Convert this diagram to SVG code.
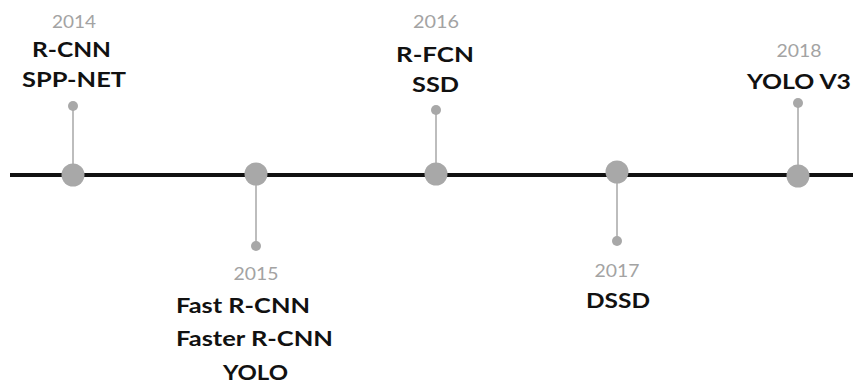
<svg xmlns="http://www.w3.org/2000/svg" width="853" height="386" viewBox="0 0 853 386">
<style>
.yr{font-family:Lato,"Open Sans",sans-serif;font-weight:400;font-size:18px;fill:#a3a3a3;text-anchor:middle}
.lb{font-family:Lato,"Open Sans",sans-serif;font-weight:700;font-size:21.5px;fill:#111;text-anchor:middle}
.stem{stroke:#bdbdbd;stroke-width:2}
.big{fill:#a8a8a8}
.dot{fill:#a8a8a8}
</style>
<rect width="853" height="386" fill="#fff"/>
<g id="connectors">
<line x1="10" y1="175" x2="853" y2="175" stroke="#111" stroke-width="4"/>
<line class="stem" x1="73" y1="106" x2="73" y2="175"/>
<line class="stem" x1="256" y1="174" x2="256" y2="246"/>
<line class="stem" x1="436" y1="110" x2="436" y2="174"/>
<line class="stem" x1="617" y1="172" x2="617" y2="241"/>
<line class="stem" x1="798" y1="103" x2="798" y2="176"/>
</g>
<g id="n2014">
<circle class="big" cx="73" cy="175" r="11.5"/>
<circle class="dot" cx="73" cy="106" r="5"/>
<text class="yr" x="74" y="28" textLength="44" lengthAdjust="spacingAndGlyphs">2014</text>
<text class="lb" x="71.5" y="57" textLength="79" lengthAdjust="spacingAndGlyphs">R-CNN</text>
<text class="lb" x="74" y="87" textLength="104" lengthAdjust="spacingAndGlyphs">SPP-NET</text>
</g>
<g id="n2015">
<circle class="big" cx="256" cy="174" r="11.5"/>
<circle class="dot" cx="256" cy="246" r="5"/>
<text class="yr" x="256" y="280" textLength="45" lengthAdjust="spacingAndGlyphs">2015</text>
<text class="lb" x="243" y="313" textLength="134" lengthAdjust="spacingAndGlyphs">Fast R-CNN</text>
<text class="lb" x="254.5" y="346" textLength="157" lengthAdjust="spacingAndGlyphs">Faster R-CNN</text>
<text class="lb" x="255.5" y="380" textLength="65" lengthAdjust="spacingAndGlyphs">YOLO</text>
</g>
<g id="n2016">
<circle class="big" cx="436" cy="174" r="11.5"/>
<circle class="dot" cx="436" cy="110" r="5"/>
<text class="yr" x="436" y="28" textLength="46" lengthAdjust="spacingAndGlyphs">2016</text>
<text class="lb" x="435" y="62" textLength="78" lengthAdjust="spacingAndGlyphs">R-FCN</text>
<text class="lb" x="435.5" y="92" textLength="47" lengthAdjust="spacingAndGlyphs">SSD</text>
</g>
<g id="n2017">
<circle class="big" cx="617" cy="172" r="11.5"/>
<circle class="dot" cx="617" cy="241" r="5"/>
<text class="yr" x="617" y="277" textLength="45" lengthAdjust="spacingAndGlyphs">2017</text>
<text class="lb" x="618" y="308" textLength="64" lengthAdjust="spacingAndGlyphs">DSSD</text>
</g>
<g id="n2018">
<circle class="big" cx="798" cy="176" r="11.5"/>
<circle class="dot" cx="798" cy="103" r="5"/>
<text class="yr" x="799" y="57" textLength="45" lengthAdjust="spacingAndGlyphs">2018</text>
<text class="lb" x="799" y="89" textLength="104" lengthAdjust="spacingAndGlyphs">YOLO V3</text>
</g>
</svg>
